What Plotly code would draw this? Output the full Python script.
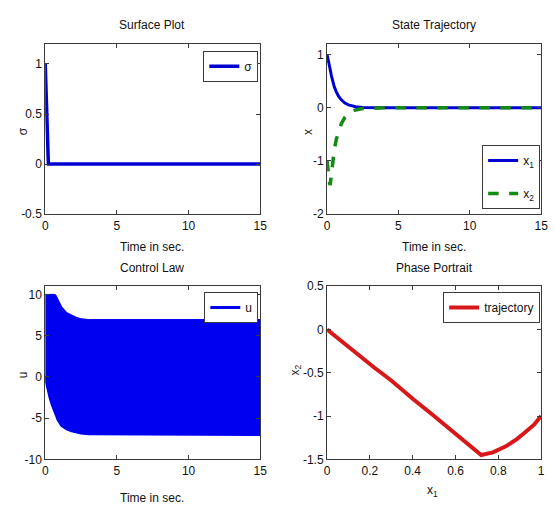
import plotly.graph_objects as go

# ---------------- data ----------------
t_state = [0, 0.03, 0.07, 0.1, 0.14, 0.18, 0.22, 0.3, 0.4, 0.5, 0.65, 0.8, 1.0, 1.25,
           1.5, 1.75, 2.0, 2.5, 3.0, 4.0, 15.0]
x1 = [1.0, 0.967, 0.92, 0.885, 0.835, 0.775, 0.72, 0.61, 0.49, 0.40, 0.30, 0.22, 0.15,
      0.09, 0.055, 0.034, 0.02, 0.007, 0.003, 0.0, 0.0]
x2 = [-1.0, -1.10, -1.20, -1.27, -1.35, -1.42, -1.45, -1.22, -0.98, -0.80, -0.59, -0.44,
      -0.30, -0.18, -0.11, -0.068, -0.04, -0.014, -0.006, 0.0, 0.0]

t_sigma = [0, 0.03, 0.07, 0.1, 0.14, 0.18, 0.22, 15.0]
sigma = [1.0, 0.83, 0.64, 0.50, 0.32, 0.13, 0.0, 0.0]

t_u = [0, 0.1, 0.2, 0.35, 0.5, 0.7, 0.75, 0.9, 1.15, 1.5, 1.85, 2.2, 2.5, 3.0, 15.0]
u_hi = [10, 10, 10, 10, 10, 10, 9.9, 9.3, 8.5, 7.8, 7.45, 7.2, 7.05, 6.95, 6.95]
u_lo = [0, -0.8, -1.6, -2.6, -3.4, -4.4, -4.6, -5.2, -5.9, -6.3, -6.55, -6.7, -6.8, -6.9, -7.0]

time_ticks = [0, 5, 10, 15]
sigma_ticks = [-0.5, 0, 0.5, 1]
x_ticks = [-2, -1, 0, 1]
u_ticks = [-10, -5, 0, 5, 10]
x1_ticks = [0, 0.2, 0.4, 0.6, 0.8, 1]
x2_ticks = [-1.5, -1, -0.5, 0, 0.5]

# ---------------- styling ----------------
FONT = "Liberation Sans Narrow, Arial Narrow, Liberation Sans, Arial, sans-serif"
BLUE = "#0000D0"
FILLBLUE = "#0000F0"
GREEN = "#138A13"
RED = "#D81818"
AX = "#3a3a3a"

W, H = 555, 513
def px(x0, x1_):
    return [x0 / W, x1_ / W]
def py(top, bottom):
    return [1 - bottom / H, 1 - top / H]

fig = go.Figure()

fig.add_trace(go.Scatter(x=t_sigma, y=sigma, mode="lines", name="σ",
                         line=dict(color=BLUE, width=3.5),
                         xaxis="x", yaxis="y", legend="legend"))
fig.add_trace(go.Scatter(x=t_state, y=x1, mode="lines", name="x<sub>1</sub>",
                         line=dict(color=BLUE, width=3), legendgroup="a",
                         xaxis="x2", yaxis="y2", legend="legend2"))
fig.add_trace(go.Scatter(x=t_state, y=x2, mode="lines", name="x<sub>2</sub>",
                         line=dict(color=GREEN, width=3.5, dash="dash"), legendgroup="b",
                         xaxis="x2", yaxis="y2", legend="legend2"))
fig.add_trace(go.Scatter(x=t_u, y=u_lo, mode="lines", name="u",
                         line=dict(color=FILLBLUE, width=3),
                         xaxis="x3", yaxis="y3", legend="legend3"))
fig.add_trace(go.Scatter(x=t_u, y=u_hi, mode="lines", name="u", showlegend=False,
                         line=dict(color=FILLBLUE, width=1), fill="tonexty",
                         fillcolor=FILLBLUE, xaxis="x3", yaxis="y3"))
fig.add_trace(go.Scatter(x=x1, y=x2, mode="lines", name="trajectory",
                         line=dict(color=RED, width=4),
                         xaxis="x4", yaxis="y4", legend="legend4"))

def label(v):
    return ("%g" % v)

def axis(domain, rng, ticks, anchor):
    return dict(domain=domain, range=rng, tickvals=ticks,
                ticktext=[label(v) for v in ticks], anchor=anchor,
                showgrid=False, zeroline=False, showline=True, linecolor=AX,
                linewidth=1, mirror="ticks", ticks="inside", ticklen=4,
                tickcolor=AX, tickfont=dict(family=FONT, size=12, color="#111"))

fig.update_layout(
    width=W, height=H, margin=dict(l=0, r=0, t=0, b=0),
    paper_bgcolor="white", plot_bgcolor="white",
    font=dict(family=FONT, size=12, color="#111"),
    xaxis=axis(px(43, 262), [0, 15], time_ticks, "y"),
    yaxis=axis(py(38, 213), [-0.5, 1.2], sigma_ticks, "x"),
    xaxis2=axis(px(330, 548), [0, 15], time_ticks, "y2"),
    yaxis2=axis(py(38, 213), [-2, 1.2], x_ticks, "x2"),
    xaxis3=axis(px(43, 262), [0, 15], time_ticks, "y3"),
    yaxis3=axis(py(287, 465), [-10, 11], u_ticks, "x3"),
    xaxis4=axis(px(330, 548), [0, 1], x1_ticks, "y4"),
    yaxis4=axis(py(287, 465), [-1.5, 0.5], x2_ticks, "x4"),
    showlegend=True,
)

def leg(xr, ytop, gap=2):
    return dict(x=xr / W, y=1 - ytop / H, xanchor="right", yanchor="top",
                bordercolor=AX, borderwidth=1, bgcolor="white",
                font=dict(family=FONT, size=12, color="#111"),
                itemwidth=30, tracegroupgap=gap, traceorder="grouped")

fig.update_layout(
    legend=leg(260, 45),
    legend2=leg(547, 142, gap=14),
    legend3=leg(260, 293),
    legend4=leg(547, 293),
)

ann = []
def text(s, x, y, size=12, angle=0):
    ann.append(dict(text=s, x=x / W, y=1 - y / H, xref="paper", yref="paper",
                    showarrow=False, xanchor="center", yanchor="middle",
                    textangle=angle, font=dict(family=FONT, size=size, color="#111")))

text("Surface Plot", 152, 18)
text("State Trajectory", 439, 18)
text("Control Law", 152, 268)
text("Phase Portrait", 439, 268)
text("Time in sec.", 152, 247)
text("Time in sec.", 439, 247)
text("Time in sec.", 152, 505)
text("x<sub>1</sub>", 437, 498)
text("σ", 20, 128, angle=-90)
text("x", 310, 128, angle=-90)
text("u", 20, 378, angle=-90)
text("x<sub>2</sub>", 298, 373, angle=-90)
fig.update_layout(annotations=ann)

fig.write_html("out.html", config={"displayModeBar": False},
               post_script="document.body.style.margin='0';document.body.style.overflow='hidden';")
